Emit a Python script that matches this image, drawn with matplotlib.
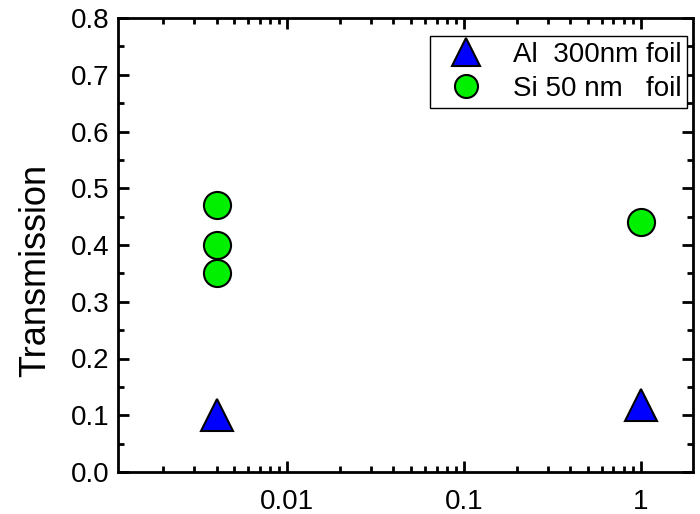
import matplotlib
matplotlib.use("Agg")
import matplotlib.pyplot as plt
from matplotlib.ticker import LogLocator, FixedLocator, MultipleLocator, NullFormatter, FixedFormatter

plt.rcParams['font.family'] = ['Liberation Sans', 'DejaVu Sans']

al_x = [0.004, 1.0]
al_y = [0.10, 0.118]
si_x = [0.004, 0.004, 0.004, 1.0]
si_y = [0.47, 0.40, 0.35, 0.44]
al_label = "Al  300nm foil"
si_label = "Si 50 nm   foil"
ylabel = "Transmission"
xtick_vals = [0.01, 0.1, 1]
xtick_labels = ["0.01", "0.1", "1"]
ytick_vals = [0.0, 0.1, 0.2, 0.3, 0.4, 0.5, 0.6, 0.7, 0.8]

fig = plt.figure(figsize=(7.0, 5.14), dpi=100)
ax = fig.add_axes([118/700, 1-472/514, (693-118)/700, (472-18)/514])

ax.plot(al_x, al_y, linestyle='none', marker='^', markersize=23,
        markerfacecolor='#0000FF', markeredgecolor='black', markeredgewidth=1.5,
        label=al_label)
ax.plot(si_x, si_y, linestyle='none', marker='o', markersize=19.5,
        markerfacecolor='#00F000', markeredgecolor='black', markeredgewidth=1.5,
        label=si_label)

ax.set_xscale('log')
ax.set_xlim(0.00111, 1.97)
ax.set_ylim(0, 0.8)

ax.xaxis.set_major_locator(FixedLocator(xtick_vals))
ax.xaxis.set_major_formatter(FixedFormatter(xtick_labels))
ax.xaxis.set_minor_locator(LogLocator(base=10, subs=range(2, 10), numticks=20))
ax.xaxis.set_minor_formatter(NullFormatter())
ax.yaxis.set_major_locator(FixedLocator(ytick_vals))
ax.yaxis.set_minor_locator(MultipleLocator(0.05))
ax.yaxis.set_major_formatter(matplotlib.ticker.FormatStrFormatter('%.1f'))

for s in ax.spines.values():
    s.set_linewidth(2.0)
ax.tick_params(which='both', direction='in', top=True, right=True, width=2.0)
ax.tick_params(which='major', length=8, labelsize=20)
ax.tick_params(axis='y', which='major', pad=6)
ax.tick_params(axis='x', which='major', pad=12)
ax.tick_params(which='minor', length=4.5)

ax.set_ylabel(ylabel, fontsize=26)
ax.yaxis.set_label_coords(-0.113, 0.445)

leg = ax.legend(loc='upper right', fontsize=20, frameon=True, fancybox=False,
                edgecolor='black', framealpha=1, borderpad=0.2, labelspacing=0.3,
                handletextpad=0.6, handlelength=2.2, borderaxespad=0.0,
                markerscale=0.85, bbox_to_anchor=(0.99, 0.96))
leg.get_frame().set_linewidth(1.0)

fig.savefig("out.png", dpi=100)
